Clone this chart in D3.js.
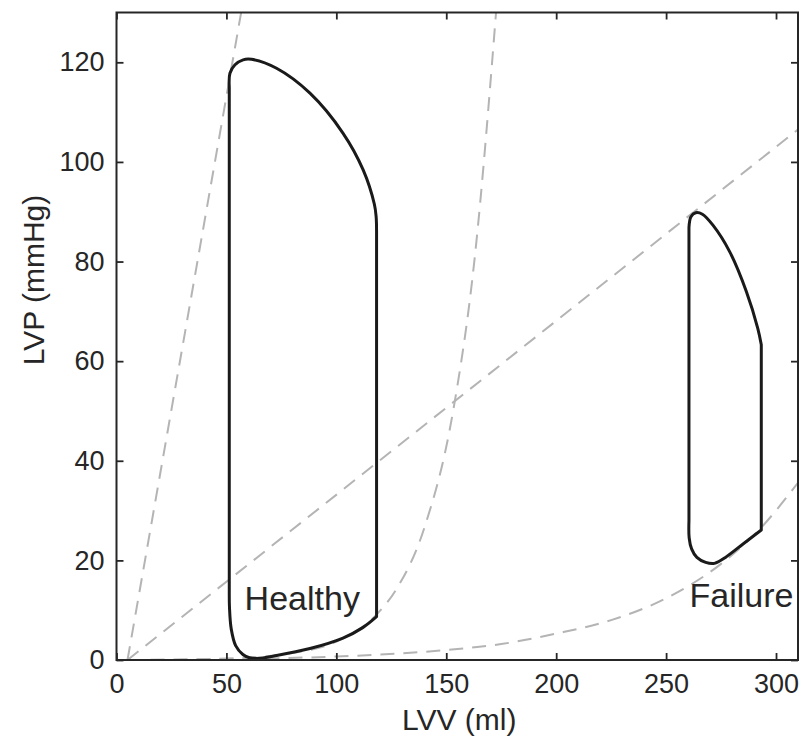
<!DOCTYPE html>
<html>
<head>
<meta charset="utf-8">
<script src="https://cdn.jsdelivr.net/npm/d3@7"></script>
<style>
  html, body { margin: 0; padding: 0; background: #ffffff; }
  svg { display: block; }
  text { font-family: "Liberation Sans", Arial, Helvetica, sans-serif; fill: #262626; }
</style>
</head>
<body>
<svg id="chart" width="802" height="740"></svg>
<script>
// ---------- data ----------
const xTicks = [0, 50, 100, 150, 200, 250, 300];
const yTicks = [0, 20, 40, 60, 80, 100, 120];
const xLabel = "LVV (ml)";
const yLabel = "LVP (mmHg)";

// Healthy pressure-volume loop (volume ml, pressure mmHg), split in phases.
// Filling phase: end of relaxation -> bottom -> end-diastole
const healthyFillV = [51.3, 51.4, 52.2, 54.2, 57.5, 60.5, 63.7, 72.8, 88, 103, 112, 118.3];
const healthyFillP = [14, 10.5, 6.2, 2.9, 1.1, 0.45, 0.3, 0.9, 2.3, 4.4, 6.5, 8.7];
// Ejection phase: end of isovolumic contraction -> peak -> end-systole
const healthyEjectV = [118.3, 118.1, 117.3, 112.2, 103, 88, 72.8, 61.4, 57.6, 53.9, 51.6, 51.3];
const healthyEjectP = [86, 89, 91.5, 98.4, 105.8, 113.8, 118.8, 120.6, 120.5, 119.5, 117.8, 115];

// Heart-failure pressure-volume loop, split in phases.
const failureFillV = [260.4, 260.5, 261.6, 264, 268, 272, 277, 285, 293.3];
const failureFillP = [28, 24.5, 22.3, 20.6, 19.6, 19.4, 20.6, 23.3, 26.1];
const failureEjectV = [293.3, 291.7, 286.5, 278.9, 271.3, 266.5, 263.5, 261.3, 260.4];
const failureEjectP = [63.3, 66.6, 74, 82, 87.3, 89.5, 89.8, 89.0, 86.8];

// End-systolic pressure-volume relations (dashed straight lines)
const espvrHealthyV = [5, 56.7];
const espvrHealthyP = [0, 130];
const espvrFailureV = [5, 310];
const espvrFailureP = [0, 106.5];

// End-diastolic pressure-volume relations (dashed curves)
const edpvrHealthyV = [5, 30, 60, 80, 100, 118, 127, 140, 153, 163, 173];
const edpvrHealthyP = [0, 0.1, 0.5, 1.4, 3.7, 9, 14, 26.5, 49.7, 81, 132];
const edpvrFailureV = [5, 50, 100, 150, 175, 200, 225, 250, 275, 292, 310];
const edpvrFailureP = [0, 0.2, 0.7, 2, 3.2, 5.3, 8.0, 12.4, 19.3, 26, 35.6];

const annotations = [
  { text: "Healthy", v: 84.5, p: 10 },
  { text: "Failure", v: 284.3, p: 10.6 }
];

// ---------- layout ----------
const mLeft = 116.5, mRight = 798, mTop = 12.5, mBottom = 660;

const svg = d3.select("#chart");
const x = d3.scaleLinear().domain([0, 310]).range([mLeft, mRight]);
const y = d3.scaleLinear().domain([0, 130]).range([mBottom, mTop]);

const zip = (vs, ps) => vs.map((v, i) => [v, ps[i]]);

svg.append("defs").append("clipPath").attr("id", "plotclip")
  .append("rect").attr("x", mLeft).attr("y", mTop)
  .attr("width", mRight - mLeft).attr("height", mBottom - mTop);

const plot = svg.append("g").attr("clip-path", "url(#plotclip)");

const straight = d3.line().x(d => x(d[0])).y(d => y(d[1]));
const smooth = d3.line().x(d => x(d[0])).y(d => y(d[1])).curve(d3.curveMonotoneX);
const curved = d3.line().x(d => x(d[0])).y(d => y(d[1])).curve(d3.curveCatmullRom.alpha(0.5));

const dashStyle = sel => sel.attr("fill", "none").attr("stroke", "#b4b4b4")
  .attr("stroke-width", 2).attr("stroke-dasharray", "14,9");

plot.append("path").datum(zip(espvrHealthyV, espvrHealthyP)).attr("d", straight).call(dashStyle);
plot.append("path").datum(zip(espvrFailureV, espvrFailureP)).attr("d", straight).call(dashStyle);
plot.append("path").datum(zip(edpvrHealthyV, edpvrHealthyP)).attr("d", smooth).call(dashStyle);
plot.append("path").datum(zip(edpvrFailureV, edpvrFailureP)).attr("d", smooth).call(dashStyle);

// a loop = filling curve + isovolumic contraction (straight) + ejection curve + isovolumic relaxation (straight)
function loopPath(fillV, fillP, ejV, ejP) {
  const fill = zip(fillV, fillP), ej = zip(ejV, ejP);
  const a = curved(fill);
  const b = straight([fill[fill.length - 1], ej[0]]).replace(/^M/, "L");
  const c = curved(ej).replace(/^M[^A-Za-z]*/, "");
  const d = straight([ej[ej.length - 1], fill[0]]).replace(/^M[^A-Za-z]*/, "");
  return a + b + c + d + "Z";
}

const loopStyle = sel => sel.attr("fill", "none").attr("stroke", "#1a1a1a")
  .attr("stroke-width", 3).attr("stroke-linejoin", "round");
plot.append("path").attr("d", loopPath(healthyFillV, healthyFillP, healthyEjectV, healthyEjectP)).call(loopStyle);
plot.append("path").attr("d", loopPath(failureFillV, failureFillP, failureEjectV, failureEjectP)).call(loopStyle);

// annotations
svg.selectAll("text.ann").data(annotations).enter().append("text")
  .attr("class", "ann")
  .attr("x", d => x(d.v)).attr("y", d => y(d.p))
  .attr("text-anchor", "middle")
  .attr("font-size", 34)
  .text(d => d.text);

// ---------- axes (box with inward ticks) ----------
const axisColor = "#262626";
const tickLen = 7;

const gx = svg.append("g").attr("transform", `translate(0,${mBottom})`)
  .call(d3.axisBottom(x).tickValues(xTicks).tickSizeInner(-tickLen).tickSizeOuter(0).tickPadding(14));
const gxt = svg.append("g").attr("transform", `translate(0,${mTop})`)
  .call(d3.axisTop(x).tickValues(xTicks).tickSizeInner(-tickLen).tickSizeOuter(0).tickFormat(""));
const gy = svg.append("g").attr("transform", `translate(${mLeft},0)`)
  .call(d3.axisLeft(y).tickValues(yTicks).tickSizeInner(-tickLen).tickSizeOuter(0).tickPadding(12));
const gyr = svg.append("g").attr("transform", `translate(${mRight},0)`)
  .call(d3.axisRight(y).tickValues(yTicks).tickSizeInner(-tickLen).tickSizeOuter(0).tickFormat(""));

[gx, gxt, gy, gyr].forEach(g => {
  g.select(".domain").remove();
  g.selectAll(".tick line").attr("stroke", axisColor).attr("stroke-width", 1.8);
  g.selectAll(".tick text").attr("font-size", 27).attr("fill", axisColor)
    .attr("font-family", '"Liberation Sans", Arial, Helvetica, sans-serif');
});

svg.append("rect").attr("x", mLeft).attr("y", mTop)
  .attr("width", mRight - mLeft).attr("height", mBottom - mTop)
  .attr("fill", "none").attr("stroke", axisColor).attr("stroke-width", 2);

// axis labels
svg.append("text").attr("x", (mLeft + mRight) / 2 + 2).attr("y", 730)
  .attr("text-anchor", "middle").attr("font-size", 30).text(xLabel);
svg.append("text")
  .attr("transform", `translate(44,280) rotate(-90)`)
  .attr("text-anchor", "middle").attr("font-size", 30).text(yLabel);
</script>
</body>
</html>
